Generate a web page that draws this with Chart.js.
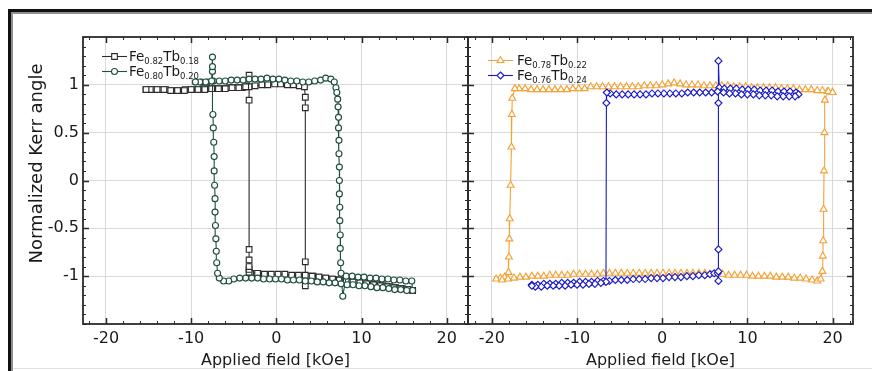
<!DOCTYPE html>
<html><head><meta charset="utf-8">
<script src="https://cdn.jsdelivr.net/npm/chart.js@4.4.1/dist/chart.umd.min.js"></script>
<style>
html,body{margin:0;padding:0;background:#fff;}
body{width:872px;height:371px;position:relative;overflow:hidden;}
#frameOuter{position:absolute;left:8px;top:9px;width:900px;height:400px;border-top:3px solid #111;border-left:3px solid #111;}
#frameInner{position:absolute;left:11px;top:12px;width:900px;height:400px;border-top:2px solid #8f8f8f;border-left:2px solid #8f8f8f;}
#bottomLine{position:absolute;left:13px;top:368px;width:860px;height:1px;background:#e2e2e2;}
canvas{position:absolute;left:0;top:0;}
</style></head>
<body>
<div id="frameOuter"></div><div id="frameInner"></div><div id="bottomLine"></div>
<canvas id="leftPanel" width="872" height="371"></canvas>
<canvas id="rightPanel" width="872" height="371"></canvas>
<script>
// ---- tick values / labels ----
const fieldTicks = [-20, -10, 0, 10, 20];
const kerrTicks = [-1, -0.5, 0, 0.5, 1];
const fieldTitle = 'Applied field [kOe]';
const kerrTitle = 'Normalized Kerr angle';

// ---- legend labels (base, subscript, base, subscript) ----
const labelsLeft = [['Fe', '0.82', 'Tb', '0.18'], ['Fe', '0.80', 'Tb', '0.20']];
const labelsRight = [['Fe', '0.78', 'Tb', '0.22'], ['Fe', '0.76', 'Tb', '0.24']];

// ---- series: [field kOe, normalized Kerr angle] in sweep order ----
const fe82Tb18 = [
  [-15.3,0.95],[-14.5,0.95],[-13.8,0.95],[-13.0,0.95],[-12.2,0.94],[-11.5,0.94],[-10.7,0.95],[-10.0,0.95],
  [-9.2,0.95],[-8.5,0.96],[-7.7,0.96],[-7.0,0.96],[-6.2,0.96],[-5.5,0.97],[-4.7,0.97],[-4.0,0.97],
  [-3.2,0.98],[-2.5,0.99],[-1.7,1.0],[-1.0,1.0],[-0.2,1.01],[0.5,1.01],[1.3,1.0],[2.0,1.0],[2.7,0.99],[3.3,0.98],
  [3.4,0.87],[3.4,0.76],[3.4,-0.85],[3.4,-1.1],
  [3.6,-1.0],[4.3,-1.0],[5.0,-1.01],[5.8,-1.02],[6.5,-1.03],[7.3,-1.04],[8.0,-1.05],[8.8,-1.06],[9.5,-1.06],
  [10.3,-1.07],[11.0,-1.08],[11.8,-1.09],[12.5,-1.1],[13.3,-1.11],[14.0,-1.12],[14.8,-1.13],[15.5,-1.14],[16.0,-1.15],
  [15.4,-1.14],[14.6,-1.13],[13.8,-1.12],[13.0,-1.11],[12.2,-1.1],[11.4,-1.09],[10.6,-1.08],[9.8,-1.07],[9.0,-1.06],
  [8.2,-1.05],[7.4,-1.04],[6.6,-1.03],[5.8,-1.02],[5.0,-1.01],[4.2,-1.0],[3.4,-0.99],[2.6,-0.99],[1.8,-0.99],
  [1.0,-0.98],[0.2,-0.98],[-0.6,-0.98],[-1.4,-0.98],[-2.2,-0.97],[-3.0,-0.97],
  [-3.2,-0.96],[-3.2,-0.93],[-3.2,-0.9],[-3.2,-0.83],[-3.2,-0.72],[-3.2,0.84],[-3.2,1.1],
  [-3.6,0.98],[-4.4,0.97],[-5.2,0.97],[-6.0,0.96],[-6.8,0.96],[-7.6,0.96],[-8.4,0.95],[-9.2,0.95],[-10.0,0.95],
  [-10.8,0.94],[-11.6,0.94],[-12.4,0.94],[-13.2,0.95],[-14.0,0.95],[-14.8,0.95],[-15.3,0.95]
];
const fe80Tb20 = [
  [-9.5,1.03],[-8.8,1.03],[-8.1,1.03],[-7.4,1.04],[-6.7,1.04],[-6.0,1.04],[-5.3,1.05],[-4.6,1.05],[-3.9,1.05],
  [-3.2,1.06],[-2.5,1.06],[-1.8,1.06],[-1.1,1.07],[-0.4,1.06],[0.3,1.06],[1.0,1.05],[1.7,1.04],[2.4,1.04],
  [3.1,1.03],[3.8,1.03],[4.5,1.04],[5.2,1.05],[5.8,1.07],[6.4,1.06],[6.8,1.03],[7.0,0.97],[7.1,0.92],[7.2,0.85],
  [7.25,0.77],[7.3,0.66],[7.3,0.55],[7.35,0.42],[7.35,0.28],[7.4,0.14],[7.4,0.0],[7.4,-0.14],[7.45,-0.28],
  [7.45,-0.42],[7.5,-0.57],[7.5,-0.71],[7.55,-0.86],[7.6,-0.97],[7.8,-1.21],
  [8.2,-1.0],[8.9,-1.0],[9.6,-1.01],[10.3,-1.01],[11.0,-1.02],[11.7,-1.02],[12.4,-1.03],[13.1,-1.03],
  [13.8,-1.04],[14.5,-1.04],[15.2,-1.05],[15.9,-1.05],
  [16.0,-1.15],[15.3,-1.15],[14.6,-1.14],[13.9,-1.14],[13.2,-1.13],[12.5,-1.12],[11.8,-1.12],[11.1,-1.11],
  [10.4,-1.1],[9.7,-1.1],[9.0,-1.09],[8.3,-1.09],[7.6,-1.08],[6.9,-1.07],[6.2,-1.07],[5.5,-1.06],[4.8,-1.06],
  [4.1,-1.05],[3.4,-1.05],[2.7,-1.04],[2.0,-1.04],[1.3,-1.04],[0.6,-1.03],[-0.1,-1.03],[-0.8,-1.03],[-1.5,-1.03],
  [-2.2,-1.02],[-2.9,-1.02],[-3.6,-1.02],[-4.3,-1.02],[-5.0,-1.03],[-5.6,-1.05],[-6.2,-1.05],[-6.7,-1.02],[-6.9,-0.97],
  [-7.0,-0.86],[-7.05,-0.74],[-7.1,-0.61],[-7.15,-0.47],[-7.2,-0.33],[-7.2,-0.19],[-7.25,-0.05],[-7.3,0.1],
  [-7.3,0.25],[-7.35,0.4],[-7.4,0.55],[-7.45,0.69],[-7.5,1.14],[-7.5,1.19],[-7.5,1.29],
  [-7.6,1.04],[-8.3,1.03],[-9.0,1.03],[-9.5,1.03]
];
const fe78Tb22 = [
  [20.0,0.92],[19.4,0.93],[18.8,0.94],[18.2,0.94],[17.5,0.95],[16.8,0.95],[16.1,0.95],[15.4,0.96],[14.7,0.96],
  [14.0,0.96],[13.3,0.97],[12.6,0.97],[11.9,0.97],[11.2,0.97],[10.5,0.97],[9.8,0.98],[9.1,0.98],[8.4,0.98],
  [7.7,0.99],[7.0,0.99],[6.3,0.99],[5.6,0.99],[4.9,0.99],[4.2,1.0],[3.5,1.0],[2.8,1.0],[2.1,1.01],[1.4,1.02],
  [0.7,1.01],[0.0,1.0],[-0.7,0.99],[-1.4,0.99],[-2.1,0.99],[-2.8,0.98],[-3.5,0.98],[-4.2,0.98],[-4.9,0.98],
  [-5.6,0.98],[-6.3,0.98],[-7.0,0.98],[-7.7,0.98],[-8.4,0.98],[-9.1,0.96],[-9.8,0.96],[-10.5,0.96],[-11.2,0.95],
  [-11.9,0.95],[-12.6,0.95],[-13.3,0.95],[-14.0,0.95],[-14.7,0.95],[-15.4,0.95],[-16.1,0.96],[-16.8,0.96],[-17.3,0.96],
  [-17.6,0.86],[-17.65,0.69],[-17.7,0.35],[-17.8,-0.05],[-17.9,-0.4],[-17.95,-0.61],[-18.0,-0.8],[-18.05,-0.96],
  [-18.5,-1.01],[-19.0,-1.02],[-19.5,-1.03],
  [-18.8,-1.04],[-18.1,-1.03],[-17.4,-1.02],[-16.7,-1.01],[-16.0,-1.01],[-15.3,-1.0],[-14.6,-1.0],[-13.9,-1.0],
  [-13.2,-0.99],[-12.5,-0.99],[-11.8,-0.99],[-11.1,-0.99],[-10.4,-0.98],[-9.7,-0.98],[-9.0,-0.98],[-8.3,-0.98],
  [-7.6,-0.98],[-6.9,-0.97],[-6.2,-0.97],[-5.5,-0.97],[-4.8,-0.97],[-4.1,-0.97],[-3.4,-0.97],[-2.7,-0.97],
  [-2.0,-0.97],[-1.3,-0.97],[-0.6,-0.97],[0.1,-0.97],[0.8,-0.97],[1.5,-0.97],[2.2,-0.97],[2.9,-0.97],[3.6,-0.97],
  [4.3,-0.97],[5.0,-0.97],[5.7,-0.98],[6.4,-0.98],[7.1,-0.98],[7.8,-0.99],[8.5,-0.99],[9.2,-0.99],[9.9,-0.99],
  [10.6,-1.0],[11.3,-1.0],[12.0,-1.0],[12.7,-1.0],[13.4,-1.01],[14.1,-1.01],[14.8,-1.01],[15.5,-1.02],[16.2,-1.02],
  [16.9,-1.03],[17.6,-1.04],[18.2,-1.05],[18.6,-1.03],
  [18.8,-0.95],[18.85,-0.79],[18.9,-0.63],[18.95,-0.3],[19.0,0.1],[19.05,0.5],[19.1,0.84],[19.5,0.93],[20.0,0.92]
];
const fe76Tb24 = [
  [-15.3,-1.09],[-14.6,-1.09],[-13.9,-1.08],[-13.2,-1.08],[-12.5,-1.08],[-11.8,-1.07],[-11.1,-1.07],[-10.4,-1.07],
  [-9.7,-1.06],[-9.0,-1.06],[-8.3,-1.06],[-7.6,-1.05],[-6.9,-1.05],[-6.2,-1.05],[-5.5,-1.04],[-4.8,-1.04],
  [-4.1,-1.04],[-3.4,-1.03],[-2.7,-1.03],[-2.0,-1.03],[-1.3,-1.02],[-0.6,-1.02],[0.1,-1.02],[0.8,-1.01],
  [1.5,-1.01],[2.2,-1.01],[2.9,-1.0],[3.6,-1.0],[4.3,-0.99],[5.0,-0.99],[5.6,-0.98],[6.1,-0.97],[6.5,-0.97],
  [6.6,-1.05],[6.6,-0.95],[6.6,-0.72],[6.6,0.81],[6.6,1.25],[6.7,0.97],
  [7.3,0.96],[8.0,0.96],[8.7,0.96],[9.4,0.95],[10.1,0.95],[10.8,0.95],[11.5,0.94],[12.2,0.94],[12.9,0.94],
  [13.6,0.93],[14.3,0.93],[15.0,0.93],[15.7,0.92],[16.0,0.9],
  [15.6,0.88],[14.9,0.88],[14.2,0.88],[13.5,0.88],[12.8,0.89],[12.1,0.89],[11.4,0.89],[10.7,0.9],[10.0,0.9],
  [9.3,0.9],[8.6,0.91],[7.9,0.91],[7.2,0.92],[6.5,0.93],[5.8,0.92],[5.1,0.92],[4.4,0.92],[3.7,0.92],[3.0,0.92],
  [2.3,0.91],[1.6,0.91],[0.9,0.91],[0.2,0.91],[-0.5,0.91],[-1.2,0.91],[-1.9,0.9],[-2.6,0.9],[-3.3,0.9],
  [-4.0,0.9],[-4.7,0.9],[-5.4,0.9],[-6.1,0.91],[-6.5,0.92],
  [-6.55,0.81],[-6.6,-1.06],
  [-7.2,-1.07],[-7.9,-1.08],[-8.6,-1.08],[-9.3,-1.09],[-10.0,-1.09],[-10.7,-1.09],[-11.4,-1.1],[-12.1,-1.1],
  [-12.8,-1.1],[-13.5,-1.1],[-14.2,-1.11],[-14.9,-1.11],[-15.3,-1.1]
];

// ---- styling ----
const FONT = "'DejaVu Sans', 'Liberation Sans', sans-serif";
Chart.defaults.font.family = FONT;
Chart.defaults.color = '#1a1a1a';
const C_BLACK = '#2b2b2b', C_GREEN = '#1f4f3d', C_ORANGE = '#f4a236', C_BLUE = '#1a1ac8';

function toXY(a) { return a.map(p => ({ x: p[0], y: p[1] })); }
function series(label, arr, color, style, radius, order) {
  return {
    label, data: toXY(arr), showLine: true, borderColor: color, backgroundColor: color, borderWidth: 1.1,
    pointStyle: style, pointRadius: radius, pointBorderColor: color, pointBackgroundColor: '#fff',
    pointBorderWidth: 1.15, order, tension: 0
  };
}

function drawMarker(ctx, style, cx, cy, r, color) {
  ctx.beginPath();
  if (style === 'rect') { const s = r * Math.SQRT1_2; ctx.rect(cx - s, cy - s, 2 * s, 2 * s); }
  else if (style === 'circle') { ctx.arc(cx, cy, r, 0, Math.PI * 2); }
  else if (style === 'triangle') { ctx.moveTo(cx, cy - r); ctx.lineTo(cx + r * 0.866, cy + r * 0.5); ctx.lineTo(cx - r * 0.866, cy + r * 0.5); ctx.closePath(); }
  else { ctx.moveTo(cx, cy - r); ctx.lineTo(cx + r, cy); ctx.lineTo(cx, cy + r); ctx.lineTo(cx - r, cy); ctx.closePath(); }
  ctx.fillStyle = '#fff'; ctx.fill();
  ctx.strokeStyle = color; ctx.lineWidth = 1.1; ctx.stroke();
}

const framePlugin = {
  id: 'frameTicks',
  afterDraw(chart, args, opts) {
    const { ctx, chartArea: a, scales: { x, y } } = chart;
    ctx.save();
    ctx.strokeStyle = '#2b2b2b';
    // minor ticks
    ctx.lineWidth = 1;
    ctx.beginPath();
    for (let v = Math.ceil(x.min / 2) * 2; v <= x.max; v += 2) {
      const px = Math.round(x.getPixelForValue(v)) + 0.5;
      ctx.moveTo(px, a.bottom); ctx.lineTo(px, a.bottom - 3);
      ctx.moveTo(px, a.top); ctx.lineTo(px, a.top + 3);
    }
    for (let i = Math.ceil(y.min * 10); i <= Math.floor(y.max * 10); i++) {
      const py = Math.round(y.getPixelForValue(i / 10)) + 0.5;
      ctx.moveTo(a.left, py); ctx.lineTo(a.left + 3, py);
      ctx.moveTo(a.right, py); ctx.lineTo(a.right - 3, py);
    }
    ctx.stroke();
    // major ticks
    ctx.lineWidth = 1.5;
    ctx.beginPath();
    fieldTicks.forEach(v => {
      const px = Math.round(x.getPixelForValue(v)) + 0.5;
      ctx.moveTo(px, a.bottom); ctx.lineTo(px, a.bottom - 6);
      ctx.moveTo(px, a.top); ctx.lineTo(px, a.top + 6);
    });
    kerrTicks.forEach(v => {
      const py = Math.round(y.getPixelForValue(v)) + 0.5;
      ctx.moveTo(a.left, py); ctx.lineTo(a.left + 6, py);
      ctx.moveTo(a.right, py); ctx.lineTo(a.right - 6, py);
    });
    ctx.stroke();
    // box
    ctx.lineWidth = 1.8;
    ctx.strokeRect(a.left, a.top, a.right - a.left, a.bottom - a.top);
    // y-axis title (placed as in the original, slightly above centre)
    if (opts.yTitle) {
      ctx.save();
      ctx.translate(a.left - 46, (a.top + a.bottom) / 2 - 17);
      ctx.rotate(-Math.PI / 2);
      ctx.font = '18px ' + FONT;
      ctx.fillStyle = '#1a1a1a';
      ctx.textAlign = 'center';
      ctx.textBaseline = 'middle';
      ctx.fillText(opts.yTitle, 0, 0);
      ctx.restore();
    }
    // legend
    const lg = opts.legend;
    if (lg) {
      lg.items.forEach((it, k) => {
        const ry = a.top + lg.y + k * lg.gap;
        const lx = a.left + lg.x;
        ctx.strokeStyle = it.color; ctx.lineWidth = 1.1;
        ctx.beginPath(); ctx.moveTo(lx, ry + 0.5); ctx.lineTo(lx + 25, ry + 0.5); ctx.stroke();
        drawMarker(ctx, it.style, lx + 12.5, ry + 0.5, it.r, it.color);
        let tx = lx + lg.textGap;
        ctx.fillStyle = '#1a1a1a';
        ctx.textBaseline = 'alphabetic';
        ctx.textAlign = 'left';
        it.parts.forEach((p, j) => {
          if (j % 2 === 0) { ctx.font = '13.5px ' + FONT; ctx.fillText(p, tx, ry + 5); }
          else { ctx.font = '8.5px ' + FONT; ctx.fillText(p, tx, ry + 8); }
          tx += ctx.measureText(p).width;
        });
      });
    }
    ctx.restore();
  }
};

function buildScales(xmin, xmax, showYLabels, yWidth) {
  return {
    x: {
      type: 'linear', min: xmin, max: xmax,
      afterBuildTicks: s => { s.ticks = fieldTicks.map(v => ({ value: v })); },
      afterFit: s => { s.height = 47; },
      grid: { color: '#d9d9d9', lineWidth: 1, drawTicks: false },
      border: { display: false },
      ticks: { font: { size: 16 }, padding: 5, color: '#1a1a1a', maxRotation: 0, autoSkip: false, callback: v => String(v) },
      title: { display: true, text: fieldTitle, font: { size: 16 }, color: '#1a1a1a', padding: { top: 0, bottom: 1 } }
    },
    y: {
      type: 'linear', min: -1.5, max: 1.5,
      afterBuildTicks: s => { s.ticks = kerrTicks.map(v => ({ value: v })); },
      afterFit: s => { s.width = yWidth; },
      grid: { color: '#d9d9d9', lineWidth: 1, drawTicks: false },
      border: { display: false },
      ticks: { display: showYLabels, font: { size: 16 }, padding: 4, color: '#1a1a1a', callback: v => String(v) },
      title: { display: false }
    }
  };
}

function makePanel(id, datasets, pad, xmin, xmax, showY, yWidth, legend) {
  return new Chart(document.getElementById(id), {
    type: 'scatter',
    data: { datasets },
    options: {
      responsive: false, animation: false, events: [], devicePixelRatio: 1,
      layout: { padding: pad },
      scales: buildScales(xmin, xmax, showY, yWidth),
      plugins: { legend: { display: false }, tooltip: { enabled: false },
        frameTicks: { legend, yTitle: showY ? kerrTitle : null } }
    },
    plugins: [framePlugin]
  });
}

makePanel('leftPanel', [
  series('Fe0.82Tb0.18', fe82Tb18, C_BLACK, 'rect', 4.0, 1),
  series('Fe0.80Tb0.20', fe80Tb20, C_GREEN, 'circle', 3.0, 0)
], { left: 14, right: 404, top: 37, bottom: 0 }, -22.7, 22.5, true, 69, {
  x: 19, y: 19, gap: 15, textGap: 27,
  items: [
    { parts: labelsLeft[0], color: C_BLACK, style: 'rect', r: 4.0 },
    { parts: labelsLeft[1], color: C_GREEN, style: 'circle', r: 3.0 }
  ]
});

makePanel('rightPanel', [
  series('Fe0.78Tb0.22', fe78Tb22, C_ORANGE, 'triangle', 4.0, 1),
  series('Fe0.76Tb0.24', fe76Tb24, C_BLUE, 'rectRot', 3.5, 0)
], { left: 468, right: 19, top: 37, bottom: 0 }, -22.8, 22.4, false, 0, {
  x: 20, y: 23, gap: 15, textGap: 29,
  items: [
    { parts: labelsRight[0], color: C_ORANGE, style: 'triangle', r: 4.0 },
    { parts: labelsRight[1], color: C_BLUE, style: 'rectRot', r: 3.5 }
  ]
});
</script>
</body></html>
